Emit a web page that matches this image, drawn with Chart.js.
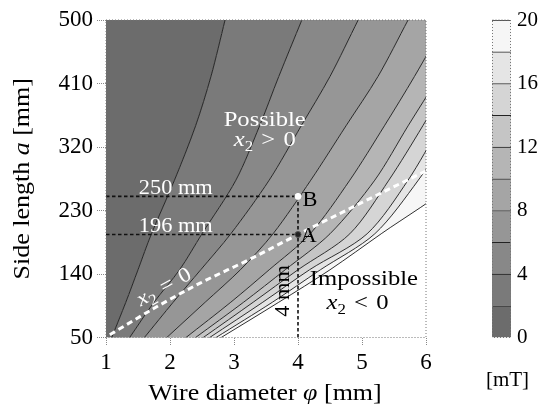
<!DOCTYPE html>
<html><head><meta charset="utf-8">
<script src="https://cdn.jsdelivr.net/npm/chart.js@4.4.0/dist/chart.umd.min.js"></script>
<style>
html,body{margin:0;padding:0;background:#fff;}
#wrap{position:relative;width:541px;height:404px;overflow:hidden;}
#main{position:absolute;left:0;top:0;}
#cbar{position:absolute;left:470px;top:0;}
</style></head><body>
<div id="wrap"><canvas id="main" width="541" height="404"></canvas><canvas id="cbar" width="71" height="404"></canvas></div>
<script>
// ---- data ----
// side length a [mm] at which each contour's wire diameter is read
const sideLength = [0, 50, 100, 146, 197, 273, 350, 420, 500, 560];
// wire diameter phi [mm] of each contour line (levels 2..20 mT)
const phiB2  = [0.87, 1.09, 1.31, 1.50, 1.71, 2.07, 2.40, 2.64, 2.86, 3.02];
const phiB4  = [0.99, 1.37, 1.75, 2.15, 2.50, 3.03, 3.40, 3.70, 4.06, 4.33];
const phiB6  = [1.15, 1.60, 2.05, 2.48, 2.95, 3.55, 4.05, 4.50, 4.94, 5.27];
const phiB8  = [1.35, 1.95, 2.55, 3.10, 3.61, 4.20, 4.75, 5.25, 5.72, 6.07];
const phiB10 = [1.55, 2.25, 2.95, 3.55, 4.19, 4.81, 5.35, 5.82, 6.32, 6.68];
const phiB12 = [1.65, 2.40, 3.15, 3.80, 4.50, 5.20, 5.72, 6.20, 6.70, 7.10];
const phiB14 = [1.74, 2.52, 3.30, 4.00, 4.81, 5.42, 5.95, 6.40, 6.90, 7.30];
const phiB16 = [1.79, 2.62, 3.45, 4.18, 5.08, 5.72, 6.22, 6.65, 7.15, 7.50];
const phiB18 = [1.84, 2.72, 3.60, 4.35, 5.20, 5.88, 6.45, 6.90, 7.40, 7.80];
const phiB20 = [1.90, 2.80, 3.70, 4.50, 5.30, 6.50, 7.30, 8.00, 8.70, 9.20];
// x2 = 0 line
const x2ZeroPhi = [1.06, 1.84, 2.47, 3.25, 4.00, 4.97, 6.02];
const x2ZeroA   = [54, 96, 127, 161, 196, 240, 287];
// design points
const pointA = {phi: 4, a: 196};
const pointB = {phi: 4, a: 250};
// axis ticks
const xTicks = [1, 2, 3, 4, 5, 6];
const yTicks = [50, 140, 230, 320, 410, 500];
const colorbarEdges = [0, 2, 4, 6, 8, 10, 12, 14, 16, 18, 20];
const colorbarTicks = [0, 4, 8, 12, 16, 20];

// ---- styles ----
const bandColors = ['#6c6c6c','#7a7a7a','#888888','#969696','#a5a5a5','#b5b5b5','#c5c5c5','#d5d5d5','#e5e5e5','#f6f6f6'];
const FONT = "'Liberation Serif','Times New Roman',serif";
const TENSION = 0.3;
const SX = 1.12; // horizontal stretch of drawn text (wide serif look)

const contours = [phiB2, phiB4, phiB6, phiB8, phiB10, phiB12, phiB14, phiB16, phiB18, phiB20];
const pts = (arr) => arr.map((p, j) => ({x: p, y: sideLength[j]}));
const common = {pointRadius: 0, tension: TENSION, capBezierPoints: false};
const datasets = [];
datasets.push({...common, data: pts(contours[0]), borderWidth: 0, backgroundColor: bandColors[0], fill: 'end'});
for (let k = 0; k < contours.length - 1; k++) {
  datasets.push({...common, data: pts(contours[k]).concat(pts(contours[k + 1]).reverse()),
    borderWidth: 0, backgroundColor: bandColors[k + 1], fill: 'shape'});
}
for (const c of contours) {
  datasets.push({...common, data: pts(c), borderColor: '#1a1a1a', borderWidth: 0.9, fill: false});
}
const guide = (p) => ({data: p, borderColor: '#111', borderWidth: 1.6, borderDash: [3.5, 2.5],
  fill: false, pointRadius: 0, tension: 0, order: -1});
datasets.push(guide([{x: xTicks[0], y: pointB.a}, {x: pointB.phi, y: pointB.a}]));
datasets.push(guide([{x: xTicks[0], y: pointA.a}, {x: pointA.phi, y: pointA.a}]));
datasets.push(guide([{x: pointA.phi, y: yTicks[0]}, {x: pointB.phi, y: pointB.a}]));
datasets.push({data: x2ZeroPhi.map((p, i) => ({x: p, y: x2ZeroA[i]})), borderColor: '#fff', borderWidth: 3,
  borderDash: [6, 4], fill: false, pointRadius: 0, cubicInterpolationMode: 'monotone', order: -2});
datasets.push({data: [{x: pointA.phi, y: pointA.a}], showLine: false, pointRadius: 3, pointBackgroundColor: '#222',
  pointBorderColor: '#555', pointBorderWidth: 1, fill: false, order: -3});
datasets.push({data: [{x: pointB.phi, y: pointB.a}], showLine: false, pointRadius: 3, pointBackgroundColor: '#fff',
  pointBorderColor: '#fff', pointBorderWidth: 1, fill: false, order: -3});

function drawRich(ctx, parts, x, y, size, color, align, angle, sx) {
  ctx.save();
  ctx.translate(x, y);
  if (angle) ctx.rotate(angle);
  ctx.scale(sx || 1, 1);
  const fontOf = (p) => (p.it ? 'italic ' : '') + Math.round(p.sub ? size * 0.7 : size) + 'px ' + FONT;
  let total = 0;
  for (const p of parts) { ctx.font = fontOf(p); p.w = ctx.measureText(p.t).width; total += p.w; }
  let cx = align === 'center' ? -total / 2 : (align === 'right' ? -total : 0);
  ctx.fillStyle = color; ctx.textBaseline = 'alphabetic'; ctx.textAlign = 'left';
  for (const p of parts) { ctx.font = fontOf(p); ctx.fillText(p.t, cx, p.sub ? size * 0.22 : 0); cx += p.w; }
  ctx.restore();
}

const SP = '\u2004';
const labels = [
  {parts: [{t: 'Possible'}], phi: 3.48, a: 350, size: 22, color: '#fff', align: 'center'},
  {parts: [{t: 'x', it: 1}, {t: '2', sub: 1}, {t: SP + '>' + SP + '0'}], phi: 3.48, a: 321, size: 22, color: '#fff', align: 'center'},
  {parts: [{t: '250 mm'}], phi: 2.09, a: 254, size: 20, color: '#fff', align: 'center'},
  {parts: [{t: '196 mm'}], phi: 2.09, a: 199, size: 20, color: '#fff', align: 'center'},
  {parts: [{t: 'B'}], phi: 4.07, a: 236, size: 20, color: '#000', align: 'left'},
  {parts: [{t: 'A'}], phi: 4.04, a: 185, size: 20, color: '#000', align: 'left'},
  {parts: [{t: 'x', it: 1}, {t: '2', sub: 1}, {t: SP + '=' + SP + '0'}], phi: 1.95, a: 114, size: 21, color: '#fff', align: 'center', angle: -0.5},
  {parts: [{t: '4 mm'}], phi: 3.86, a: 116, size: 20, color: '#000', align: 'center', angle: -Math.PI / 2},
  {parts: [{t: 'Impossible'}], phi: 5.03, a: 124, size: 22, color: '#000', align: 'center'},
  {parts: [{t: 'x', it: 1}, {t: '2', sub: 1}, {t: SP + '<' + SP + '0'}], phi: 4.93, a: 90, size: 22, color: '#000', align: 'center'}
];

const annot = {
  id: 'annot',
  afterDatasetsDraw(chart) {
    const {ctx, chartArea: ca, scales: {x, y}} = chart;
    ctx.save();
    ctx.strokeStyle = '#777'; ctx.lineWidth = 1; ctx.setLineDash([1, 2]);
    ctx.strokeRect(ca.left, ca.top, ca.right - ca.left, ca.bottom - ca.top);
    ctx.restore();
    for (const L of labels) drawRich(ctx, L.parts, x.getPixelForValue(L.phi), y.getPixelForValue(L.a), L.size, L.color, L.align, L.angle || 0, SX);
  },
  afterDraw(chart) {
    const {ctx, chartArea: ca} = chart;
    drawRich(ctx, [{t: 'Wire diameter '}, {t: 'φ', it: 1}, {t: ' [mm]'}], (ca.left + ca.right) / 2 - 1, 400, 23, '#000', 'center', 0, 1.13);
    drawRich(ctx, [{t: 'Side length '}, {t: 'a', it: 1}, {t: ' [mm]'}], 29, (ca.top + ca.bottom) / 2, 23, '#000', 'center', -Math.PI / 2, 1.13);
  }
};

new Chart(document.getElementById('main'), {
  type: 'line',
  data: {datasets},
  plugins: [annot],
  options: {
    responsive: false, animation: false, devicePixelRatio: 1,
    layout: {padding: {left: 0, top: 20, right: 115, bottom: 0}},
    plugins: {legend: {display: false}, tooltip: {enabled: false}, filler: {drawTime: 'beforeDatasetsDraw', propagate: false}},
    scales: {
      x: {type: 'linear', position: 'bottom', min: xTicks[0], max: xTicks[xTicks.length - 1],
        afterBuildTicks(s) { s.ticks = xTicks.map(v => ({value: v})); },
        ticks: {font: {family: FONT, size: 23}, color: '#000', padding: 4},
        grid: {drawOnChartArea: false, drawTicks: true, tickLength: 8, color: '#888', tickBorderDash: [1, 1]},
        border: {display: false},
        afterFit(s) { s.height = 66.5; }},
      y: {type: 'linear', position: 'left', min: yTicks[0], max: yTicks[yTicks.length - 1],
        afterBuildTicks(s) { s.ticks = yTicks.map(v => ({value: v})); },
        ticks: {font: {family: FONT, size: 23}, color: '#000', padding: 4},
        grid: {drawOnChartArea: false, drawTicks: true, tickLength: 9, color: '#888', tickBorderDash: [1, 1]},
        border: {display: false},
        afterFit(s) { s.width = 106; }}
    }
  }
});

const cbarPlugin = {
  id: 'cbarFrame',
  afterDraw(chart) {
    const {ctx, chartArea: ca} = chart;
    ctx.save();
    ctx.strokeStyle = '#777'; ctx.lineWidth = 1; ctx.setLineDash([1, 2]);
    ctx.strokeRect(ca.left + 0.5, ca.top, ca.right - ca.left - 1, ca.bottom - ca.top);
    ctx.restore();
    drawRich(ctx, [{t: '[mT]'}], (ca.left + ca.right) / 2 + 6, 386, 21, '#000', 'center', 0, 1);
  }
};
new Chart(document.getElementById('cbar'), {
  type: 'bar',
  data: {labels: ['B'], datasets: bandColors.map((c, i) => ({
    data: [[colorbarEdges[i], colorbarEdges[i + 1]]], backgroundColor: c, borderColor: '#222',
    borderWidth: {top: 1, bottom: 0, left: 0, right: 0}, borderSkipped: false,
    barPercentage: 1, categoryPercentage: 1, grouped: false}))},
  plugins: [cbarPlugin],
  options: {
    responsive: false, animation: false, devicePixelRatio: 1,
    layout: {padding: {left: 22, top: 20, right: 0, bottom: 66.5}},
    plugins: {legend: {display: false}, tooltip: {enabled: false}},
    scales: {
      x: {display: false},
      y: {position: 'right', min: colorbarEdges[0], max: colorbarEdges[colorbarEdges.length - 1],
        afterBuildTicks(s) { s.ticks = colorbarTicks.map(v => ({value: v})); },
        ticks: {font: {family: FONT, size: 21}, color: '#000', padding: 6},
        grid: {display: false, drawTicks: false}, border: {display: false},
        afterFit(s) { s.width = 30; }}
    }
  }
});
</script>
</body></html>
